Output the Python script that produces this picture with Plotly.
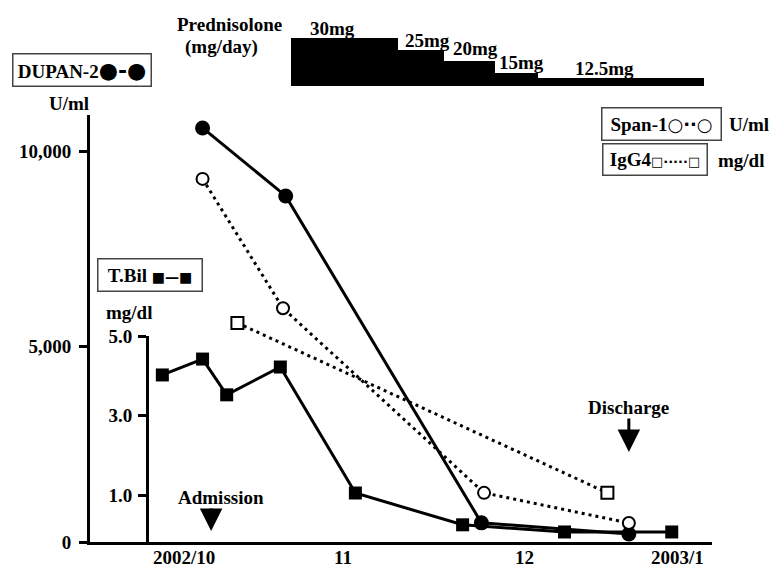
import plotly.graph_objects as go

# ---------------- data (days from 2002/10/01) ----------------
tbil_days = [-4, 3.5, 8, 18, 32, 52, 71, 91]
tbil_vals = [4.02, 4.42, 3.52, 4.22, 1.05, 0.25, 0.07, 0.07]

dupan_days = [3.5, 19, 55.5, 83]
dupan_vals = [10600, 8860, 490, 205]

span1_days = [3.5, 18.5, 56, 83]
span1_vals = [421, 271, 57, 22]

igg4_days = [10, 79]
igg4_vals = [254, 57]

pred_start = [20, 40, 48.5, 58, 66]
pred_dur = [20, 8.5, 9.5, 8, 31]
pred_dose = [30, 25, 20, 15, 12.5]
pred_labels = ["30mg", "25mg", "20mg", "15mg", "12.5mg"]

month_pos = [0, 29.7, 63.6, 92]
month_labels = ["2002/10", "11", "12", "2003/1"]

admission_day = 5.1
discharge_day = 83

# ---------------- layout helpers ----------------
W, H = 770, 567
def PX(px):
    return px / W
def PY(py):
    return 1 - py / H

FONT = "Liberation Serif"
def f(size=19):
    return dict(family=FONT, size=size, color="black", weight="bold")

fig = go.Figure()

# Prednisolone steps
fig.add_trace(go.Bar(x=pred_start, y=pred_dose, width=pred_dur, offset=0,
                     marker=dict(color="black", line=dict(width=0)),
                     xaxis="x", yaxis="y5", hoverinfo="skip"))

# T.Bil
fig.add_trace(go.Scatter(x=tbil_days, y=tbil_vals, mode="lines+markers",
                         line=dict(color="black", width=3),
                         marker=dict(symbol="square", size=13, color="black"),
                         xaxis="x", yaxis="y3", cliponaxis=False))

# IgG4 (right-axis scale, drawn on a hidden axis sharing the right scale)
fig.add_trace(go.Scatter(x=igg4_days, y=igg4_vals, mode="lines+markers",
                         line=dict(color="black", width=3, dash="3px,4px"),
                         marker=dict(symbol="square", size=12, color="white",
                                     line=dict(color="black", width=2)),
                         xaxis="x", yaxis="y2", cliponaxis=False))

# Span-1
fig.add_trace(go.Scatter(x=span1_days, y=span1_vals, mode="lines+markers",
                         line=dict(color="black", width=3, dash="3px,4px"),
                         marker=dict(symbol="circle", size=12, color="white",
                                     line=dict(color="black", width=2)),
                         xaxis="x", yaxis="y2", cliponaxis=False))

# DUPAN-2
fig.add_trace(go.Scatter(x=dupan_days, y=dupan_vals, mode="lines+markers",
                         line=dict(color="black", width=3),
                         marker=dict(symbol="circle", size=15, color="black"),
                         xaxis="x", yaxis="y", cliponaxis=False))

x_left, x_right = 90, 712
y_bottom = 542
y_top = 115
d0_px, px_per_day = 183.8, 5.362
x_range = [(x_left - d0_px) / px_per_day, (x_right - d0_px) / px_per_day]
right_px_per_unit = 0.8625

axis_common = dict(showgrid=False, zeroline=False, showline=True, linecolor="black",
                   linewidth=3, ticks="outside", ticklen=8, tickwidth=3,
                   tickcolor="black", tickfont=f(19), automargin=False)

fig.update_layout(
    width=W, height=H,
    margin=dict(l=0, r=0, t=0, b=0, autoexpand=False),
    paper_bgcolor="white", plot_bgcolor="rgba(0,0,0,0)",
    showlegend=False,
    xaxis=dict(domain=[PX(x_left), PX(x_right)], range=x_range,
               showgrid=False, zeroline=False, showline=True, linecolor="black",
               linewidth=3, ticks="", showticklabels=False, anchor="y",
               automargin=False),
    yaxis=dict(domain=[PY(y_bottom), PY(y_top)],
               range=[0, (y_bottom - y_top) / 39.06 * 1000],
               tickvals=[0, 5000, 10000], ticktext=["0", "5,000", "10,000"],
               anchor="x", ticklabelstandoff=4, **axis_common),
    yaxis2=dict(domain=[PY(y_bottom), PY(y_top)],
                range=[0, (y_bottom - y_top) / right_px_per_unit],
                visible=False, anchor="x"),
    yaxis3=dict(domain=[PY(y_bottom), PY(336)],
                range=[5.0 - (y_bottom - 336) / 39.75, 5.0],
                tickvals=[1, 3, 5], ticktext=["1.0", "3.0", "5.0"],
                anchor="free", position=PX(147), side="left",
                ticklabelstandoff=2, **axis_common),
    yaxis4=dict(domain=[PY(y_bottom), PY(180)],
                range=[0, (y_bottom - 180) / right_px_per_unit],
                tickvals=[0, 200, 400], ticktext=["0", "200", "400"],
                anchor="x", side="right",
                ticklabelstandoff=10, **axis_common),
    yaxis5=dict(domain=[PY(86), PY(37.7)], range=[9, 30], visible=False,
                anchor="x"),
    bargap=0,
)

ann = []
def text(t, px, py, size=19, xanchor="center", yanchor="middle"):
    ann.append(dict(text=t, x=PX(px), y=PY(py), xref="paper", yref="paper",
                    showarrow=False, font=f(size), xanchor=xanchor, yanchor=yanchor))

def box(t, x0, y0, x1, y1):
    pad = 3
    ann.append(dict(text=t, x=PX(x0), y=PY(y0), xref="paper", yref="paper",
                    showarrow=False, font=f(19), xanchor="left", yanchor="top",
                    align="center", bordercolor="#444", borderwidth=1.5,
                    borderpad=pad, width=(x1 - x0) - 2 * pad - 3,
                    height=(y1 - y0) - 2 * pad - 3, valign="middle"))

# month labels along the time axis
for pos, lab in zip(month_pos, month_labels):
    ann.append(dict(text=lab, x=pos, y=PY(557), xref="x", yref="paper",
                    showarrow=False, font=f(19), xanchor="center",
                    yanchor="middle"))

SYM = "font-family:DejaVu Sans;font-weight:bold;"
box("DUPAN-2<span style='" + SYM + "font-size:22px'>●-●</span>", 12, 53, 152, 87)
box("T.Bil <span style='" + SYM + "font-size:14px'>■—■</span>", 97, 258, 203, 292)
box("Span-1<span style='" + SYM + "font-size:18px'>○··○</span>", 601, 107, 722, 141)
box("IgG4<span style='" + SYM + "font-size:13px'>□·····□</span>", 602, 143, 708, 176)

text("U/ml", 69, 103)
text("mg/dl", 129, 312)
text("U/ml", 749, 125)
text("mg/dl", 741, 160)
text("Prednisolone", 229, 25)
text("(mg/day)", 221, 47)

label_px = [(332, 29), (427, 40), (475, 48.5), (521, 62), (604, 68)]
for lab, (lx, ly) in zip(pred_labels, label_px):
    text(lab, lx, ly)

text("Admission", 221, 497)
text("Discharge", 628, 407)

for d, tip, tail in [(admission_day, 531, 507), (discharge_day, 452, 417)]:
    ann.append(dict(text="", x=d, y=PY(tip), xref="x", yref="paper",
                    showarrow=True, ax=0, ay=-(tip - tail), axref="pixel",
                    arrowhead=2, arrowsize=1.5, arrowwidth=3, arrowcolor="black",
                    standoff=0, startstandoff=0))

fig.update_layout(annotations=ann)
fig.write_html("out.html",
               config={"displayModeBar": False},
               post_script="document.body.style.margin='0px';"
                           "document.body.style.overflow='hidden';")
